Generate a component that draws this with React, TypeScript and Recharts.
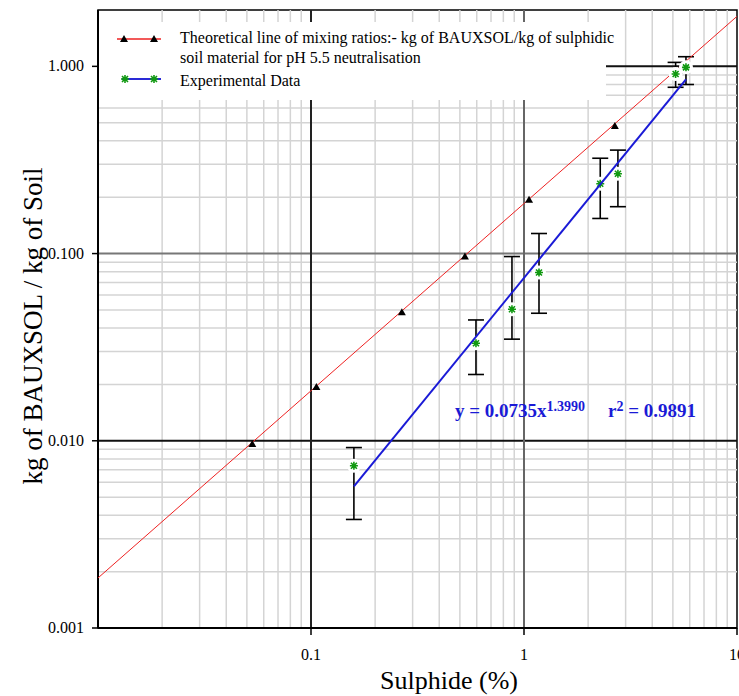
import { ScatterChart, Scatter, XAxis, YAxis, ReferenceLine, ReferenceArea, ErrorBar } from 'recharts';

// theoretical mixing-ratio line (red) and its triangle markers
const theoryLineX = [0.01, 10];
const theoryLineY = [0.00185, 1.85];
const theoryX = [0.053, 0.106, 0.267, 0.528, 1.056, 2.67, 5.35];
const theoryY = [0.0096, 0.0194, 0.0486, 0.0964, 0.194, 0.48, 0.952];

// experimental data with error bar limits
const expX = [0.159, 0.595, 0.878, 1.176, 2.28, 2.76, 5.15, 5.76];
const expY = [0.00736, 0.0332, 0.0504, 0.0792, 0.236, 0.267, 0.91, 0.988];
const expHigh = [0.0092, 0.0442, 0.0964, 0.128, 0.323, 0.357, 1.05, 1.126];
const expLow = [0.0038, 0.0226, 0.0349, 0.048, 0.154, 0.178, 0.773, 0.8];

// fitted power curve (blue)
const fitX = [0.159, 5.76];
const fitY = [0.0057, 0.853];

const xTicks = [0.1, 1, 10];
const yTicks = [0.001, 0.01, 0.1, 1];
const xMinor = [0.02, 0.03, 0.04, 0.05, 0.06, 0.07, 0.08, 0.09, 0.2, 0.3, 0.4, 0.5, 0.6, 0.7, 0.8, 0.9, 2, 3, 4, 5, 6, 7, 8, 9];
const yMinor = [0.002, 0.003, 0.004, 0.005, 0.006, 0.007, 0.008, 0.009, 0.02, 0.03, 0.04, 0.05, 0.06, 0.07, 0.08, 0.09, 0.2, 0.3, 0.4, 0.5, 0.6, 0.7, 0.8, 0.9];

const theoryLine = theoryLineX.map((x, i) => ({ x, y: theoryLineY[i] }));
const theoryPts = theoryX.map((x, i) => ({ x, y: theoryY[i] }));
const expPts = expX.map((x, i) => ({ x, y: expY[i], err: [expY[i] - expLow[i], expHigh[i] - expY[i]] }));
const fitLine = fitX.map((x, i) => ({ x, y: fitY[i] }));

const FONT = '"Liberation Serif", "Times New Roman", serif';

const Triangle = (p: any) => (
  <path d={`M${p.cx - 4},${p.cy + 3} L${p.cx + 4},${p.cy + 3} L${p.cx},${p.cy - 4} Z`} fill="#000" />
);

const Star = (p: any) => {
  const { cx, cy } = p;
  return (
    <g>
      <circle cx={cx} cy={cy} r={7} fill="#fff" />
      <path
        d={`M${cx - 4},${cy} L${cx + 4},${cy} M${cx},${cy - 4} L${cx},${cy + 4} M${cx - 3},${cy - 3} L${cx + 3},${cy + 3} M${cx - 3},${cy + 3} L${cx + 3},${cy - 3}`}
        stroke="#119911"
        strokeWidth={1.6}
      />
    </g>
  );
};

const NoShape = () => <g />;

const XTick = (p: any) => (
  <text x={p.x} y={p.y + 12} textAnchor="middle" fontFamily={FONT} fontSize={16} fill="#000">
    {String(p.payload.value)}
  </text>
);

const YTick = (p: any) => (
  <text x={p.x} y={p.y + 5} textAnchor="end" fontFamily={FONT} fontSize={16} fill="#000">
    {p.payload.value.toFixed(3)}
  </text>
);

export default function App() {
  return (
    <div
      style={{
        position: 'fixed',
        left: 8,
        top: 8,
        width: 731,
        height: 688,
        overflow: 'hidden',
        background: '#fff',
      }}
    >
      <ScatterChart width={760} height={688} margin={{ top: 2, right: 31, bottom: 8, left: 0 }}>
        <XAxis
          type="number"
          dataKey="x"
          scale="log"
          domain={[0.01, 10]}
          allowDataOverflow
          ticks={xTicks}
          interval={0}
          height={60}
          tickSize={7}
          tickMargin={13}
          axisLine={{ stroke: '#000', strokeWidth: 2 }}
          tickLine={{ stroke: '#000', strokeWidth: 1.5 }}
          tick={<XTick />}
          label={{
            content: () => (
              <text x={441} y={681} textAnchor="middle" fontFamily={FONT} fontSize={26} fill="#000">
                Sulphide (%)
              </text>
            ),
          }}
        />
        <YAxis
          type="number"
          dataKey="y"
          scale="log"
          domain={[0.001, 2]}
          allowDataOverflow
          ticks={yTicks}
          interval={0}
          width={90}
          tickSize={6}
          tickMargin={8}
          axisLine={{ stroke: '#000', strokeWidth: 2 }}
          tickLine={{ stroke: '#000', strokeWidth: 1.5 }}
          tick={<YTick />}
          label={{
            content: () => (
              <text
                x={0}
                y={0}
                transform="translate(34,318) rotate(-90)"
                textAnchor="middle"
                fontFamily={FONT}
                fontSize={27}
                fill="#000"
              >
                kg of BAUXSOL / kg of Soil
              </text>
            ),
          }}
        />

        {xMinor.map((v) => (
          <ReferenceLine key={`vx${v}`} x={v} stroke="#d4d4d4" strokeWidth={1.5} />
        ))}
        {yMinor.map((v) => (
          <ReferenceLine key={`hy${v}`} y={v} stroke="#d4d4d4" strokeWidth={1.5} />
        ))}
        <ReferenceLine y={0.1} stroke="#777" strokeWidth={2} />
        <ReferenceLine y={0.01} stroke="#111" strokeWidth={2} />
        <ReferenceLine y={1} stroke="#111" strokeWidth={2} />
        <ReferenceLine x={0.1} stroke="#222" strokeWidth={2} />
        <ReferenceLine x={1} stroke="#666" strokeWidth={2} />
        <ReferenceArea x1={0.01} x2={10} y1={0.001} y2={2} fill="none" stroke="#000" strokeWidth={1.5} />

        <Scatter data={theoryLine} line={{ stroke: '#ee2222', strokeWidth: 1 }} shape={NoShape} isAnimationActive={false} />
        <Scatter data={theoryPts} shape={Triangle} isAnimationActive={false} />
        <Scatter data={expPts} shape={Star} isAnimationActive={false}>
          <ErrorBar dataKey="err" direction="y" width={8} stroke="#000" strokeWidth={1.6} isAnimationActive={false} />
        </Scatter>
        <Scatter data={fitLine} line={{ stroke: '#1a1ad6', strokeWidth: 2 }} shape={NoShape} isAnimationActive={false} />
      </ScatterChart>

      <svg
        width={731}
        height={688}
        style={{ position: 'absolute', left: 0, top: 0, pointerEvents: 'none' }}
        fontFamily={FONT}
      >
        <rect x={91} y={14} width={507} height={78} fill="#fff" />
        <line x1={109} y1={31} x2={153} y2={31} stroke="#ee2222" strokeWidth={1.5} />
        <path d="M112,34 L120,34 L116,27 Z M142,34 L150,34 L146,27 Z" fill="#000" />
        <text x={172} y={34.5} fontSize={16} fill="#000">
          Theoretical line of mixing ratios:- kg of BAUXSOL/kg of sulphidic
        </text>
        <text x={172} y={54.5} fontSize={16} fill="#000">
          soil material for pH 5.5 neutralisation
        </text>
        <line x1={114} y1={71} x2={153} y2={71} stroke="#2a2ad6" strokeWidth={2} />
        <path
          d="M113,71 L121,71 M117,67 L117,75 M114,68 L120,74 M114,74 L120,68 M142,71 L150,71 M146,67 L146,75 M143,68 L149,74 M143,74 L149,68"
          stroke="#119911"
          strokeWidth={1.6}
        />
        <text x={172} y={77.5} fontSize={16} fill="#000">
          Experimental Data
        </text>

        <text x={447} y={409} fontSize={19} fontWeight="bold" fill="#1a1ad6">
          y = 0.0735x
          <tspan fontSize={14} dy={-6}>1.3990</tspan>
        </text>
        <text x={600} y={409} fontSize={19} fontWeight="bold" fill="#1a1ad6">
          r<tspan fontSize={14} dy={-6}>2</tspan>
          <tspan dy={6}> = 0.9891</tspan>
        </text>
      </svg>
    </div>
  );
}
